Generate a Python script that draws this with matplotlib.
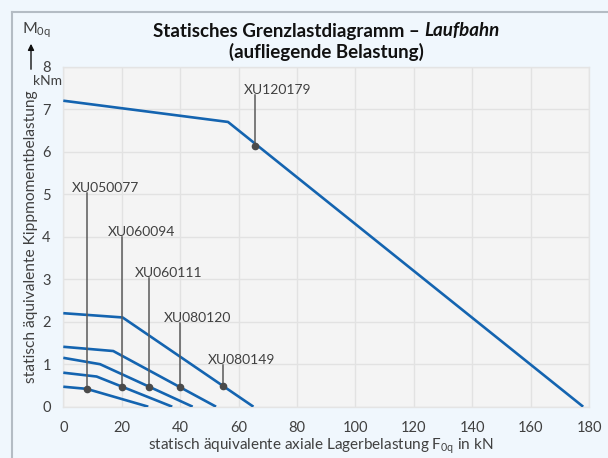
import matplotlib
matplotlib.use("Agg")
import matplotlib.pyplot as plt
from matplotlib.lines import Line2D
import numpy as np

plt.rcParams['font.family'] = ['Lato', 'DejaVu Sans']
plt.rcParams['mathtext.fontset'] = 'custom'
plt.rcParams['mathtext.rm'] = 'Lato'
plt.rcParams['mathtext.it'] = 'Lato:italic'

# ---- data ----
names = ["XU050077", "XU060094", "XU060111", "XU080120", "XU080149", "XU120179"]
curve_x = [
    [0, 8.0, 29.1],
    [0, 11.4, 37.3],
    [0, 12.6, 44.3],
    [0, 17.1, 52.3],
    [0, 20.3, 65.1],
    [0, 56.4, 178.0],
]
curve_y = [
    [0.47, 0.42, 0.0],
    [0.80, 0.71, 0.0],
    [1.15, 1.00, 0.0],
    [1.41, 1.31, 0.0],
    [2.20, 2.10, 0.0],
    [7.20, 6.70, 0.0],
]
dot_x = [8.0, 20.1, 29.4, 40.0, 54.6, 65.6]
dot_y = [0.42, 0.47, 0.47, 0.46, 0.49, 6.14]
leader_top = [5.02, 4.00, 3.03, 1.97, 0.99, 7.33]
label_x = [14.6, 26.8, 36.2, 46.1, 61.0, 73.5]

x_ticks = [0, 20, 40, 60, 80, 100, 120, 140, 160, 180]
y_ticks = [0, 1, 2, 3, 4, 5, 6, 7, 8]

title_main = 'Statisches Grenzlastdiagramm – '
title_ital = 'Laufbahn'
title_line2 = '(aufliegende Belastung)'

# ---- figure ----
W, H = 608, 458
fig = plt.figure(figsize=(W / 100, H / 100), dpi=100, facecolor='#f0f7fd')
ax = fig.add_axes([63.3 / W, 1 - 406.7 / H, (589 - 63.3) / W, (406.7 - 66.7) / H])
ax.set_facecolor('#f4f4f4')
ax.set_xlim(0, 180)
ax.set_ylim(0, 8)
ax.set_xticks(x_ticks)
ax.set_yticks(y_ticks)
ax.grid(True, color='#e2e2e2', linewidth=1.0)
ax.set_axisbelow(True)
for s in ax.spines.values():
    s.set_color('#e4e4e4')
    s.set_linewidth(1.0)
ax.tick_params(length=0, labelsize=10.5, colors='#404040', pad=9)
ax.tick_params(axis='x', pad=10)

line_color = '#1464b0'
for cx, cy in zip(curve_x, curve_y):
    ax.plot(cx, cy, color=line_color, linewidth=1.9, solid_capstyle='butt', zorder=3)

for n, dx, dy, top, lx in zip(names, dot_x, dot_y, leader_top, label_x):
    ax.plot([dx, dx], [dy, top], color='#5a5a5a', linewidth=1.1, zorder=4)
    ax.plot([dx], [dy], marker='o', markersize=4.5, color='#4a4a4a', zorder=5)
    ax.text(lx, top + 0.02, n, ha='center', va='baseline', fontsize=10,
            color='#404040', zorder=6)

# axis labels
ax.set_ylabel('statisch äquivalente Kippmomentbelastung', fontsize=11.2,
              color='#404040', labelpad=3)
fig.text(321 / W, 1 - 446 / H,
         r'statisch äquivalente axiale Lagerbelastung F$_\mathrm{0q}$ in kN',
         ha='center', va='center', fontsize=11, color='#404040')

# title (bold, with italic bold part)
fig.canvas.draw()
renderer = fig.canvas.get_renderer()
t1 = fig.text(0, 1 - 31 / H, title_main, ha='left', va='center', fontsize=13.5,
              fontweight='bold', color='#111111')
t2 = fig.text(0, 1 - 31 / H, title_ital, ha='left', va='center', fontsize=13.5,
              fontweight='bold', fontstyle='italic', color='#111111')
w1 = t1.get_window_extent(renderer).width
w2 = t2.get_window_extent(renderer).width
x0 = 326 - (w1 + w2) / 2
t1.set_x(x0 / W)
t2.set_x((x0 + w1) / W)
fig.text(326 / W, 1 - 52 / H, title_line2,
         ha='center', va='center', fontsize=13.5, fontweight='bold', color='#111111')

# unit / symbol at top of y axis
fig.text(22 / W, 1 - 30 / H, r'M$_\mathrm{0q}$', ha='left', va='center',
         fontsize=11.5, color='#404040')
fig.text(47 / W, 1 - 81 / H, 'kNm', ha='center', va='center',
         fontsize=10, color='#404040')
fig.add_artist(matplotlib.patches.FancyArrowPatch(
    (31 / W, 1 - 72 / H), (31 / W, 1 - 41 / H), transform=fig.transFigure,
    arrowstyle='-|>', mutation_scale=9, color='#111111', linewidth=1.0))

# frame lines
fig.add_artist(Line2D([12 / W, 12 / W], [0, 1 - 12 / H], transform=fig.transFigure,
                      color='#b4bcc4', linewidth=1.5))
fig.add_artist(Line2D([12 / W, 1], [1 - 12 / H, 1 - 12 / H], transform=fig.transFigure,
                      color='#b4bcc4', linewidth=1.5))

fig.savefig('out.png', dpi=100, facecolor=fig.get_facecolor())
